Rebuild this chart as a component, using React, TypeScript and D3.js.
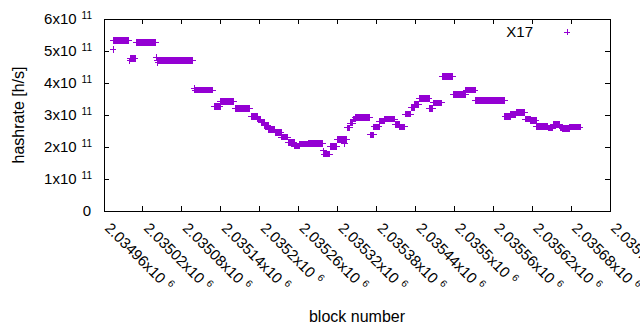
import React from 'react';
import * as d3 from 'd3';

// runs of blocks that share one hashrate estimate (value in units of 1e11 h/s)
const runStart = [
  2034974, 2034975, 2035000, 2035001, 2035010, 2035041, 2035043, 2035042, 2035099, 2035100,
  2035130, 2035140, 2035162, 2035187, 2035197, 2035203, 2035208, 2035214, 2035224, 2035234,
  2035244, 2035254, 2035262, 2035276, 2035298, 2035299, 2035309, 2035320, 2035331, 2035335,
  2035340, 2035344, 2035348, 2035371, 2035376, 2035385, 2035393, 2035409, 2035416, 2035424,
  2035434, 2035439, 2035446, 2035462, 2035468, 2035482, 2035499, 2035518, 2035533, 2035578,
  2035587, 2035596, 2035609, 2035618, 2035627, 2035645, 2035653, 2035663, 2035667, 2035678,
];
const runEnd = [
  2034974, 2034998, 2035000, 2035008, 2035039, 2035041, 2035043, 2035097, 2035099, 2035128,
  2035139, 2035160, 2035185, 2035196, 2035202, 2035207, 2035213, 2035223, 2035233, 2035243,
  2035253, 2035261, 2035275, 2035297, 2035298, 2035308, 2035319, 2035334, 2035331, 2035339,
  2035343, 2035347, 2035370, 2035375, 2035384, 2035392, 2035408, 2035415, 2035423, 2035433,
  2035438, 2035445, 2035461, 2035467, 2035480, 2035497, 2035517, 2035532, 2035577, 2035586,
  2035595, 2035608, 2035617, 2035626, 2035644, 2035652, 2035662, 2035666, 2035677, 2035694,
];
const runValue = [
  5.05, 5.33, 4.69, 4.77, 5.27, 4.79, 4.63, 4.71, 3.84, 3.78,
  3.27, 3.42, 3.2, 2.96, 2.87, 2.77, 2.67, 2.55, 2.46, 2.31,
  2.15, 2.03, 2.09, 2.11, 1.88, 1.78, 2.01, 2.23, 2.11, 2.6,
  2.75, 2.87, 2.93, 2.38, 2.63, 2.81, 2.87, 2.7, 2.63, 3.03,
  3.22, 3.33, 3.52, 3.21, 3.38, 4.21, 3.65, 3.78, 3.46, 2.96,
  3.02, 3.08, 2.87, 2.83, 2.64, 2.59, 2.71, 2.61, 2.58, 2.62,
];

const xTicks = d3.range(2034960, 2035741, 60);
const xTickLabels = [
  '2.03496', '2.03502', '2.03508', '2.03514', '2.0352', '2.03526', '2.03532',
  '2.03538', '2.03544', '2.0355', '2.03556', '2.03562', '2.03568', '2.03574',
];
const yTicks = [0, 1e11, 2e11, 3e11, 4e11, 5e11, 6e11];
const yTickMantissa = ['0', '1', '2', '3', '4', '5', '6'];
const seriesName = 'X17';

const W = 640;
const H = 330;
const left = 104;
const right = 610;
const top = 19;
const bottom = 211;
const color = '#9400d3';
const font = '"Liberation Sans", Arial, sans-serif';
const ms = 3.3; // half size of the + marker
const tick = 5;

export default function App() {
  const x = d3.scaleLinear().domain([2034960, 2035740]).range([left, right]);
  const y = d3.scaleLinear().domain([0, 6e11]).range([bottom, top]);

  const pts: [number, number][] = [];
  runStart.forEach((s, i) => {
    for (let b = s; b <= runEnd[i]; b++) pts.push([b, runValue[i] * 1e11]);
  });

  const plus = (cx: number, cy: number) =>
    `M${cx - ms},${cy}h${2 * ms}M${cx},${cy - ms}v${2 * ms}`;
  const marks = pts.map(([b, v]) => plus(x(b), y(v))).join('');

  return (
    <svg
      width={W}
      height={H}
      style={{ position: 'absolute', left: 0, top: 0, background: '#fff' }}
      fontFamily={font}
    >
      <rect width={W} height={H} fill="#fff" />
      {/* ticks */}
      <g stroke="#000" strokeWidth={1} shapeRendering="crispEdges">
        {yTicks.map((t) => (
          <g key={'y' + t}>
            <line x1={left} x2={left + tick} y1={y(t)} y2={y(t)} />
            <line x1={right} x2={right - tick} y1={y(t)} y2={y(t)} />
          </g>
        ))}
        {xTicks.map((t) => (
          <g key={'x' + t}>
            <line x1={x(t)} x2={x(t)} y1={bottom} y2={bottom - tick} />
            <line x1={x(t)} x2={x(t)} y1={top} y2={top + tick} />
          </g>
        ))}
      </g>
      {/* y labels */}
      <g fontSize={15} fill="#000">
        {yTicks.map((t, i) =>
          t === 0 ? (
            <text key={t} x={91} y={y(t) + 5} textAnchor="end">0</text>
          ) : (
            <text key={t} x={92} y={y(t) + 5} textAnchor="end">
              {yTickMantissa[i]}x10
              <tspan dx={5} dy={-5.5} fontSize={10}>11</tspan>
            </text>
          )
        )}
      </g>
      {/* x labels */}
      <g fontSize={15} fill="#000">
        {xTicks.map((t, i) => (
          <text key={t} transform={`translate(${x(t)},229) rotate(45)`}>
            {xTickLabels[i]}x10
            <tspan dx={5} dy={-5.5} fontSize={10}>6</tspan>
          </text>
        ))}
      </g>
      {/* axis titles */}
      <text
        transform={`translate(23.5,${(top + bottom) / 2}) rotate(-90)`}
        textAnchor="middle"
        fontSize={16}
      >
        hashrate [h/s]
      </text>
      <text x={(left + right) / 2} y={321.5} textAnchor="middle" fontSize={16}>
        block number
      </text>
      {/* data */}
      <path d={marks} stroke={color} strokeWidth={1} fill="none" shapeRendering="crispEdges" />
      {/* legend */}
      <text x={533} y={36.5} textAnchor="end" fontSize={15}>{seriesName}</text>
      <path d={plus(567, 32)} stroke={color} strokeWidth={1} fill="none" shapeRendering="crispEdges" />
      {/* frame */}
      <rect
        x={left}
        y={top}
        width={right - left}
        height={bottom - top}
        fill="none"
        stroke="#000"
        strokeWidth={1}
        shapeRendering="crispEdges"
      />
    </svg>
  );
}
